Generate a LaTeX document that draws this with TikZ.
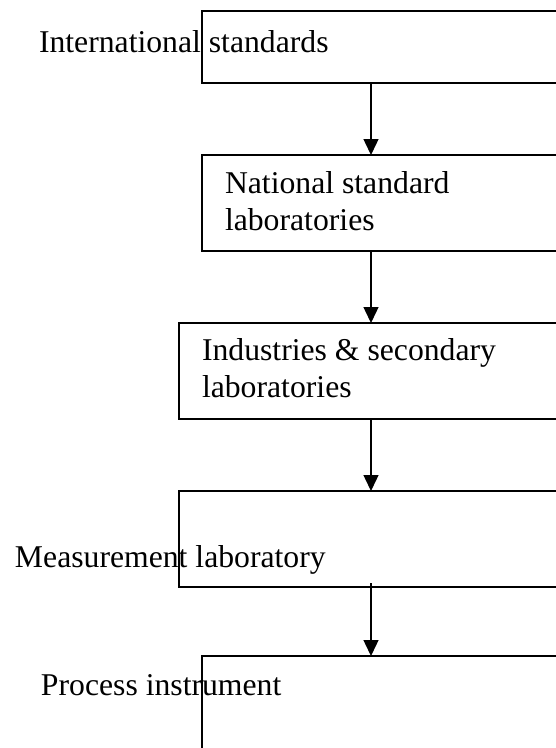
\documentclass[tikz,border=0pt]{standalone}
\usepackage{fontspec}
\setmainfont{Liberation Serif}
\usetikzlibrary{arrows.meta,calc}
\begin{document}
\begin{tikzpicture}[x=1pt,y=-1pt,
  box/.style={draw=black,line width=1.8pt,inner sep=0pt,outer sep=0pt,anchor=north west},
  lbl/.style={inner sep=0pt,outer sep=0pt,anchor=base west,align=left,font=\fontsize{31.7}{36.8}\selectfont},
  arr/.style={line width=1.4pt,-{Triangle[length=16pt,width=15pt]}}]
\useasboundingbox (0,0) rectangle (556,748);
\clip (0,0) rectangle (556,748);
\node[box,minimum width=368pt,minimum height=72pt] (b1) at (202,11) {};
\node[box,minimum width=368pt,minimum height=96pt] (b2) at (202,155) {};
\node[box,minimum width=391pt,minimum height=96pt,line width=1.5pt] (b3) at (179,323) {};
\node[box,minimum width=391pt,minimum height=96pt] (b4) at (179,491) {};
\node[box,minimum width=368pt,minimum height=110pt] (b5) at (202,656) {};
\coordinate (ax) at (371,0);
\node[lbl] (t1) at (39,52) {International standards};
\node[lbl] (t2) at (225,230) {National standard\\laboratories};
\node[lbl] (t3) at (202,397) {Industries \& secondary\\laboratories};
\node[lbl] (t4) at (15,567) {Measurement laboratory};
\node[lbl] (t5) at (41,695) {Process instrument};
\draw[arr] (ax |- b1.south) -- (ax |- b2.north);
\draw[arr] (ax |- b2.south) -- (ax |- b3.north);
\draw[arr] (ax |- b3.south) -- (ax |- b4.north);
\draw[arr] ([yshift=4pt]ax |- b4.south) -- (ax |- b5.north);
\end{tikzpicture}
\end{document}
